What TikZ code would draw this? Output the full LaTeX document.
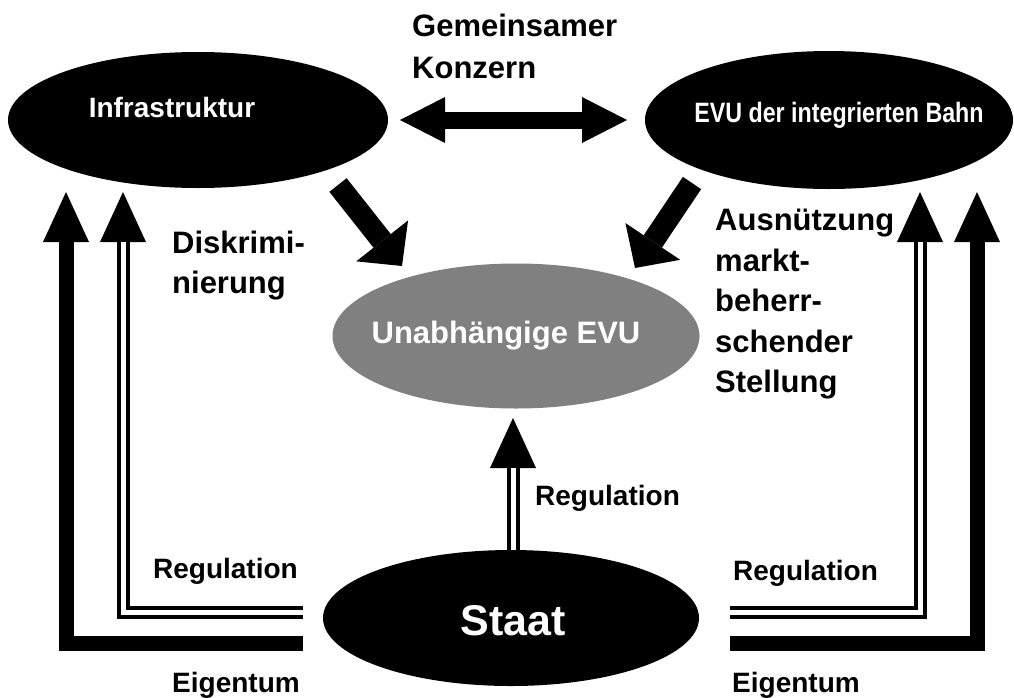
\documentclass[tikz,border=0pt]{standalone}
\usepackage{fontspec}
\setmainfont{Liberation Sans}
\usetikzlibrary{shapes.geometric,arrows.meta,calc}
\definecolor{evugray}{RGB}{128,128,128}
\begin{document}
\begin{tikzpicture}[x=1pt,y=-1pt,
  ell/.style={ellipse, fill=black, inner sep=0pt},
  intext/.style={text=white, font=\bfseries\fontsize{28}{34}\selectfont, inner sep=0pt},
  lbl/.style={font=\bfseries\fontsize{28}{40}\selectfont, inner sep=0pt, align=left},
  thickarr/.style={line width=15pt, line join=miter, -{Triangle[width=46pt,length=50pt,line width=0pt]}},
  dblouter/.style={line width=13pt, line join=miter, -{Triangle[width=46pt,length=50pt,line width=0pt]}},
  dblinner/.style={line width=5pt, line join=miter, white},
  diagarr/.style={line width=22pt, -{Triangle[width=66pt,length=32pt,line width=0pt]}},
  bothwarr/.style={line width=17pt, {Triangle[width=46pt,length=45pt,line width=0pt]}-{Triangle[width=46pt,length=45pt,line width=0pt]}}
]
\useasboundingbox (0,0) rectangle (1014,697);
\fill[white] (0,0) rectangle (1014,697);

% ellipses
\node[ell, minimum width=380pt, minimum height=136pt] (infra) at (198,120) {};
\node[ell, minimum width=368pt, minimum height=138pt] (evu) at (829,120) {};
\node[ell, fill=evugray, minimum width=367pt, minimum height=145pt] (unab) at (516,336) {};
\node[ell, minimum width=376pt, minimum height=136pt] (staat) at (511,618) {};

\node[intext] (infratxt) at (172,107) {Infrastruktur};
\node[intext] (evutxt) at (839,115) {\scalebox{0.83}[1]{EVU der integrierten Bahn}};
\node[intext, font=\bfseries\fontsize{31}{36}\selectfont] (unabtxt) at (506,336) {Unabhängige EVU};
\node[intext, font=\bfseries\fontsize{43}{48}\selectfont] (staattxt) at (513,621) {Staat};

% coordinates
\coordinate (hl) at (400,120);
\coordinate (hr) at (627,120);
\coordinate (dlt) at (338,185);
\coordinate (dlh) at (402,266);
\coordinate (drt) at (692,183);
\coordinate (drh) at (635,268);
\coordinate (mtip) at (513,418);
\coordinate (mbase) at (513,468);
\coordinate (LTs) at (303,643);
\coordinate (LTt) at (66,192);
\coordinate (LDs) at (303,612);
\coordinate (LDt) at (123,192);
\coordinate (LDb) at (123,242);
\coordinate (RTs) at (730,643);
\coordinate (RTt) at (977,192);
\coordinate (RDs) at (730,612);
\coordinate (RDt) at (920,192);
\coordinate (RDb) at (920,242);

% arrows
\draw[bothwarr] (hl) -- (hr);
\draw[diagarr] (dlt) -- (dlh);
\draw[diagarr] (drt) -- (drh);
\draw[dblouter] (mtip |- staat.north) -- (mtip);
\draw[dblinner] (mtip |- staat.north) -- (mbase);
\draw[thickarr] (LTs) -| (LTt);
\draw[dblouter] (LDs) -| (LDt);
\draw[dblinner] (LDs) -| (LDb);
\draw[thickarr] (RTs) -| (RTt);
\draw[dblouter] (RDs) -| (RDt);
\draw[dblinner] (RDs) -| (RDb);

% labels
\node[lbl, font=\bfseries\fontsize{31}{42}\selectfont, anchor=north west] (konz) at (412,14) {Gemeinsamer\\Konzern};
\node[lbl, font=\bfseries\fontsize{31}{40}\selectfont, anchor=north west] (diskr) at (172,231) {Diskrimi-\\nierung};
\node[lbl, font=\bfseries\fontsize{31}{40.5}\selectfont, anchor=north west] (ausn) at (715,209) {Ausnützung\\markt-\\beherr-\\schender\\Stellung};
\node[lbl, anchor=base west] (regm) at (535,505) {Regulation};
\node[lbl, anchor=base east] (regl) at (298,578) {Regulation};
\node[lbl, anchor=base east] (eigl) at (300,692) {Eigentum};
\node[lbl, anchor=base west] (regr) at (733,580) {Regulation};
\node[lbl, anchor=base west] (eigr) at (732,692) {Eigentum};
\end{tikzpicture}
\end{document}
